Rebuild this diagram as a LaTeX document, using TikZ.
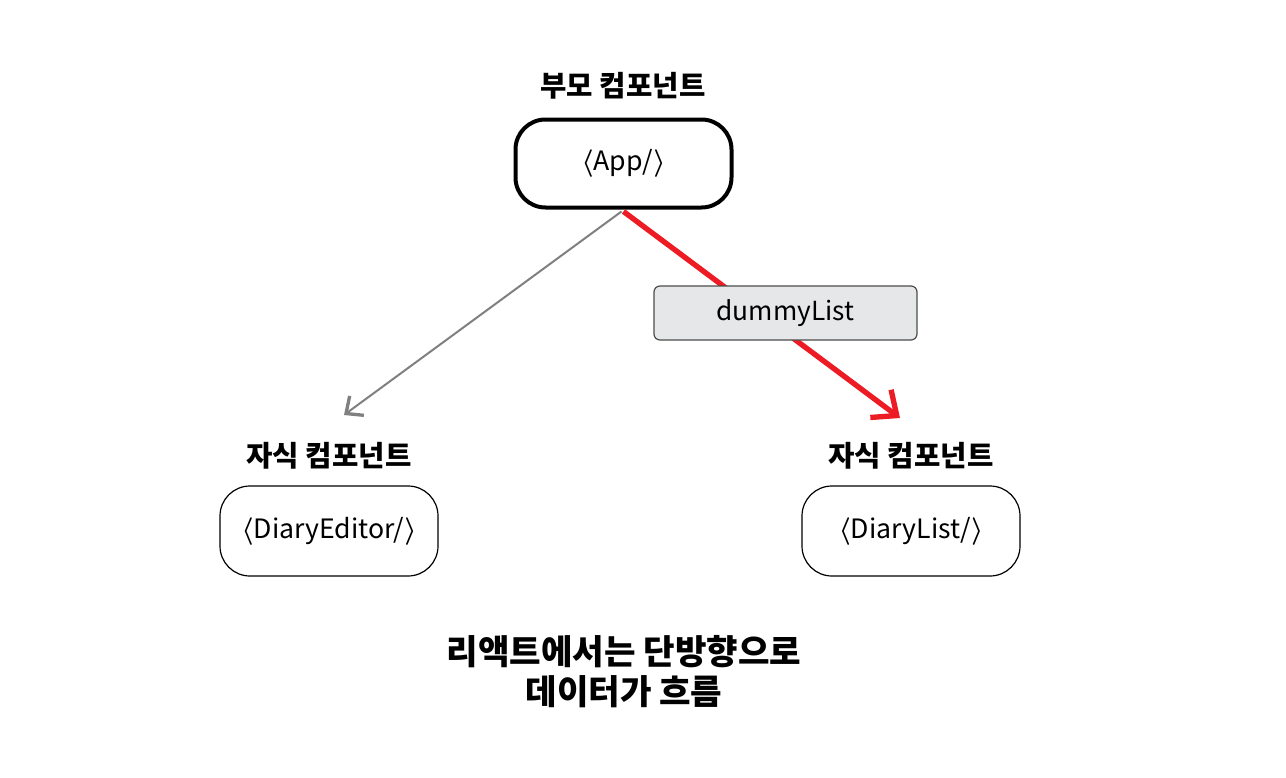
\documentclass[tikz,border=0pt]{standalone}
\usepackage{fontspec}
\setmainfont{Noto Sans CJK KR}
\usetikzlibrary{arrows.meta}
\definecolor{myred}{HTML}{ED1C24}
\definecolor{boxgray}{HTML}{E6E7E9}
\newcommand{\lb}{\ensuremath{\boldsymbol{\langle}}}
\newcommand{\rb}{\ensuremath{\boldsymbol{\rangle}}}
\usepackage{amsmath}
\tikzset{
  comp/.style={draw=black, rounded corners=22.5pt, minimum width=218*0.75pt, minimum height=90*0.75pt, font=\fontsize{20}{24}\selectfont, inner sep=0pt},
  lbl/.style={font=\fontsize{21.5}{25}\selectfont\bfseries, inner sep=0pt},
  tagbox/.style={draw=black!70, fill=boxgray, rounded corners=4.5pt, minimum width=263*0.75pt, minimum height=54*0.75pt, font=\fontsize{19.7}{23}\selectfont, inner sep=0pt, line width=0.9pt},
}
\begin{document}
\begin{tikzpicture}[x=0.75pt,y=-0.75pt]
\useasboundingbox (0,0) rectangle (1286,778);
\node[lbl] (plbl) at (623,86) {부모 컴포넌트};
\node[comp, line width=3pt, minimum width=216*0.75pt, minimum height=88*0.75pt] (app) at (623.5,163.5) {\lb App/\rb};
\node[lbl] (llbl) at (329,456) {자식 컴포넌트};
\node[comp, line width=0.9pt] (editor) at (329,531) {\lb DiaryEditor/\rb};
\node[lbl] (rlbl) at (911,456) {자식 컴포넌트};
\node[comp, line width=0.9pt] (list) at (911,531) {\lb DiaryList/\rb};
\coordinate (gend) at (344,415);
\coordinate (rend) at (900,418);
\draw[gray, line width=1.5pt, -{Straight Barb[length=10pt, width=18pt, line width=2.5pt]}] (app.south) ++(-2,2) coordinate (gs) -- (gend);
\draw[myred, line width=4pt, -{Straight Barb[length=15pt, width=26pt, line width=4pt]}] (app.south) ++(0,2) coordinate (rs) -- (rend);
\node[tagbox] (tag) at (785.5,313) {dummyList};
\node[font=\fontsize{25.7}{30}\selectfont\bfseries, align=center, inner sep=0pt] (bottom) at (624,672) {리액트에서는 단방향으로\\데이터가 흐름};
\end{tikzpicture}
\end{document}
